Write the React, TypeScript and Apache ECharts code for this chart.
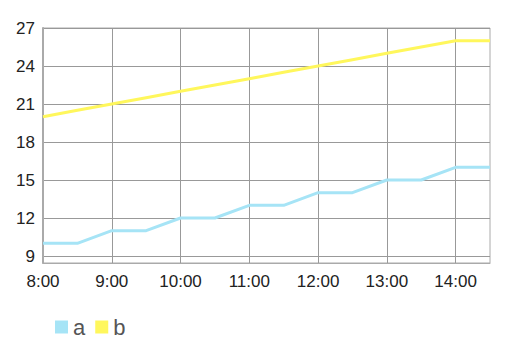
import React, { useEffect, useRef } from "react";
import * as echarts from "echarts";

const times = ["8:00", "8:30", "9:00", "9:30", "10:00", "10:30", "11:00", "11:30", "12:00", "12:30", "13:00", "13:30", "14:00", "14:30"];
const seriesA = [10, 10, 11, 11, 12, 12, 13, 13, 14, 14, 15, 15, 16, 16];
const seriesB = [20, 20.5, 21, 21.5, 22, 22.5, 23, 23.5, 24, 24.5, 25, 25.5, 26, 26];
const yTicks = [9, 12, 15, 18, 21, 24, 27];

export default function App() {
  const ref = useRef<HTMLDivElement>(null);
  useEffect(() => {
    if (!ref.current) return;
    const chart = echarts.init(ref.current, null, { renderer: "svg" });
    const font = "Liberation Sans, Helvetica, Arial, sans-serif";
    chart.setOption({
      animation: false,
      grid: {
        left: 43,
        right: 16,
        top: 28,
        bottom: 93,
        show: true,
        borderColor: "#aaaaaa",
        borderWidth: 1,
      },
      legend: {
        left: 50,
        top: 311,
        itemWidth: 13,
        itemHeight: 13,
        itemGap: 10,
        icon: "rect",
        textStyle: { fontSize: 22, color: "#555555", fontFamily: font },
        data: ["a", "b"],
      },
      xAxis: {
        type: "category",
        data: times,
        boundaryGap: false,
        axisLine: { lineStyle: { color: "#aaaaaa", width: 1 } },
        axisTick: { show: false },
        axisLabel: {
          interval: 1,
          color: "#222222",
          fontSize: 17,
          fontFamily: font,
          margin: 10,
        },
        splitLine: { show: true, interval: 1, lineStyle: { color: "#999999", width: 1 } },
      },
      yAxis: {
        type: "value",
        min: 8.45,
        max: 27,
        axisLine: { show: true, lineStyle: { color: "#aaaaaa", width: 2 } },
        axisTick: { show: false, customValues: yTicks },
        axisLabel: {
          customValues: yTicks,
          color: "#222222",
          fontSize: 17,
          fontFamily: font,
          margin: 8,
        },
        splitLine: { show: true, lineStyle: { color: "#999999", width: 1 } },
      },
      series: [
        {
          name: "a",
          type: "line",
          data: seriesA,
          symbol: "none",
          color: "#a6e4f6",
          lineStyle: { width: 3, color: "#a6e4f6" },
        },
        {
          name: "b",
          type: "line",
          data: seriesB,
          symbol: "none",
          color: "#fff75c",
          lineStyle: { width: 3, color: "#fff75c" },
        },
      ],
    });
    return () => chart.dispose();
  }, []);
  return <div ref={ref} style={{ width: 506, height: 356, position: "absolute", left: 0, top: 0 }} />;
}
